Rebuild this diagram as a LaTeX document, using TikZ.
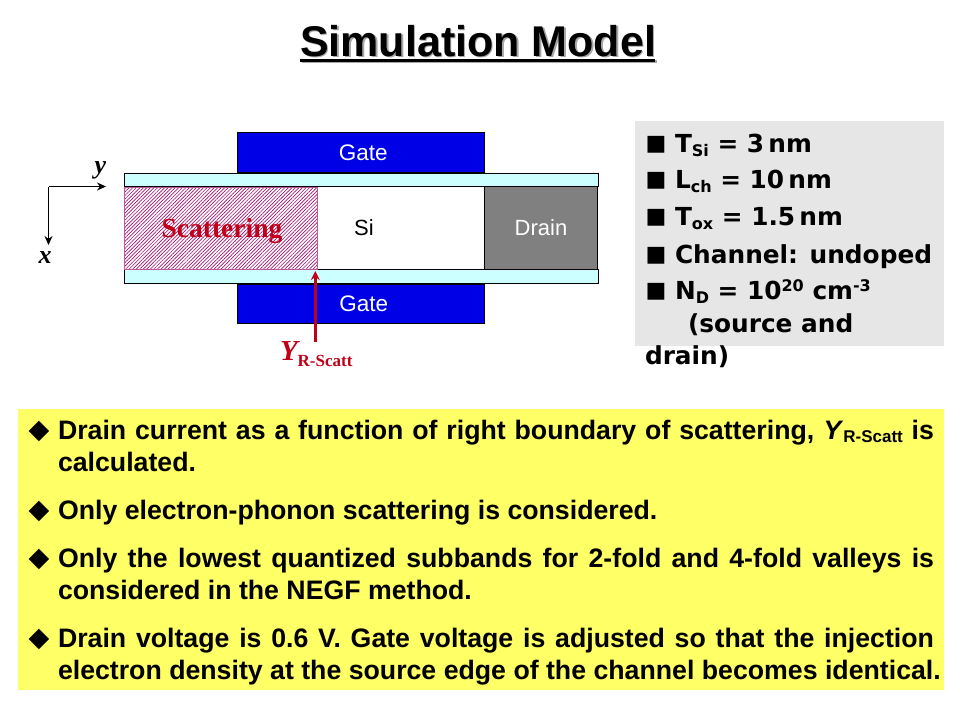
\documentclass[tikz,border=0pt]{standalone}
\usepackage{fontspec}
\setmainfont{Liberation Sans}
\newfontfamily\serifx{Liberation Serif}
\newfontfamily\panelf{DejaVu Sans}
\newfontfamily\symf{DejaVu Sans}
\usetikzlibrary{arrows.meta,patterns.meta}
\definecolor{gateblue}{HTML}{0000E6}
\definecolor{oxidecyan}{HTML}{CCFFFF}
\definecolor{draingray}{HTML}{808080}
\definecolor{panelgray}{HTML}{E6E6E6}
\definecolor{noteyellow}{HTML}{FFFF66}
\definecolor{scatred}{HTML}{C00018}
\definecolor{hatchc}{HTML}{A01070}
\newcommand{\fs}[1]{\fontsize{#1}{#1}\selectfont}
\tikzset{
  x=1pt,y=-1pt,
  region/.style={rectangle,anchor=north west,inner sep=0pt,outer sep=0pt,draw=black,line width=1pt},
  gatebox/.style={region,fill=gateblue,text=white,font=\fs{22.5}},
  oxidebox/.style={region,fill=oxidecyan},
  txt/.style={anchor=base west,inner sep=0pt,outer sep=0pt},
  body/.style={txt,font=\fs{26.7}\bfseries},
  bulletd/.style={txt,font=\fs{27}\symf},
  panel/.style={txt,font=\fs{24.8}\panelf\bfseries},
  bullets/.style={txt,font=\fs{22}\symf},
  axis/.style={draw=black,line width=1pt,-{Stealth[length=9pt,width=8pt]}},
  axlabel/.style={anchor=center,inner sep=0pt,font=\fs{26}\serifx\bfseries\itshape},
}
\begin{document}
\begin{tikzpicture}
\useasboundingbox (0,0) rectangle (960,720);
% title
\node[txt,font=\fs{43}\bfseries,text=black!35] (titleshadow) at (301.5,57.5) {\rlap{\rule[-5pt]{355pt}{2.5pt}}Simulation Model};
\node[txt,font=\fs{43}\bfseries] (title) at (300,56.5) {\rlap{\rule[-5pt]{355pt}{2.5pt}}Simulation Model};
% device
\node[gatebox,minimum width=247.5pt,minimum height=40pt] (gatetop) at (237,132.5) {\hspace{5pt}Gate};
\node[gatebox,minimum width=247.5pt,minimum height=39pt] (gatebot) at (237,284) {\hspace{6pt}Gate};
\node[oxidebox,minimum width=474pt,minimum height=13.5pt] (oxtop) at (124.5,173) {};
\node[oxidebox,minimum width=474pt,minimum height=14.5pt] (oxbot) at (124.5,269) {};
\node[region,fill=white,minimum width=361pt,minimum height=82.5pt] (si) at (124,186.5) {};
\node[region,fill=draingray,text=white,font=\fs{22},minimum width=113pt,minimum height=82.5pt] (drain) at (484.5,186.5) {Drain};
\node[rectangle,anchor=north west,inner sep=0pt,outer sep=0pt,minimum width=193pt,minimum height=82pt,draw=hatchc!70!white,line width=.8pt,
  pattern={Lines[angle=45,distance=2.5pt,line width=.65pt]},pattern color=hatchc] (scat) at (124.5,187) {};
\node[anchor=center,inner sep=0pt,font=\fs{22}] (silabel) at (364,228) {Si};
\node[anchor=center,inner sep=0pt,text=scatred,font=\fs{27.5}\serifx\bfseries] (scatlabel) at (222,231) {Scattering};
% axes
\coordinate (origin) at (48.5,186.5);
\coordinate (yend) at (106,186.5);
\coordinate (xend) at (48.5,245);
\draw[axis] (origin) -- (yend);
\draw[axis] (origin) -- (xend);
\node[axlabel] (ylabel) at (100.5,170) {y};
\node[axlabel] (xlabel) at (45,258) {x};
% boundary marker
\node[txt,text=scatred,font=\fs{29}\serifx\bfseries\itshape] (yrs) at (280,360) {Y\raisebox{-6pt}{\fs{17}\upshape R-Scatt}};
\coordinate (yrstail) at (315.3,341.5);
\coordinate (yrshead) at (315.3,271);
\draw[draw=scatred,line width=2.6pt,-{Stealth[length=9pt,width=9pt]}] (yrstail) -- (yrshead);
% parameter panel
\fill[panelgray] (635,121) rectangle (944,346);
\foreach \yy/\nm in {152/a,188/b,225/c,263/d,299/e}{
  \node[bullets] (bs\nm) at (645.5,\yy-2) {■};
}
\node[panel] (p1) at (675,152) {T\raisebox{-4pt}{\fs{16}Si} = 3\,nm};
\node[panel] (p2) at (675,188.5) {L\raisebox{-4pt}{\fs{16}ch} = 10\,nm};
\node[panel] (p3) at (675,225.5) {T\raisebox{-4pt}{\fs{16}ox} = 1.5\,nm};
\node[panel] (p4) at (675,263) {Channel: undoped};
\node[panel] (p5) at (675,299) {N\raisebox{-4pt}{\fs{16}D} = 10\raisebox{8pt}{\fs{16}20} cm\raisebox{8pt}{\fs{16}-3}};
\node[panel] (p6) at (688,332) {(source and};
\node[panel] (p7) at (645,364) {drain)};
% notes panel
\fill[noteyellow] (18,409) rectangle (944,690);
\foreach \yy/\nm in {438/a,518/b,566/c,646/d}{
  \node[bulletd] (bd\nm) at (28.5,\yy) {◆};
}
\node[body] (n1) at (58,439.5) {\makebox[876pt][s]{Drain current as a function of right boundary of scattering, \textit{Y}\raisebox{-3pt}{\fs{17}R-Scatt} is}};
\node[body] (n2) at (58,471) {calculated.};
\node[body] (n3) at (58,519.5) {Only electron-phonon scattering is considered.};
\node[body] (n4) at (58,567.5) {\makebox[876pt][s]{Only the lowest quantized subbands for 2-fold and 4-fold valleys is}};
\node[body] (n5) at (58,599.5) {considered in the NEGF method.};
\node[body] (n6) at (58,647.5) {\makebox[876pt][s]{Drain voltage is 0.6 V. Gate voltage is adjusted so that the injection}};
\node[body] (n7) at (58,679.5) {electron density at the source edge of the channel becomes identical.};
\end{tikzpicture}
\end{document}
